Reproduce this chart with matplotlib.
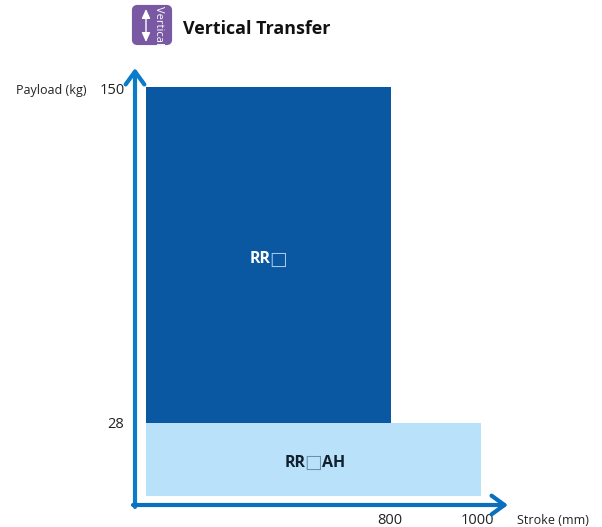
import numpy as np
import matplotlib
matplotlib.use('Agg')
import matplotlib.pyplot as plt
from matplotlib.patches import FancyBboxPatch, FancyArrowPatch
from matplotlib.transforms import ScaledTranslation

# values from the picture
stroke = [800, 1000]
payload_top = [150, 28]
payload_bottom = [28, 0]
bar_colors = ['#0a58a2', '#b9e1f9']
x_ticks = [800, 1000]
y_ticks = [28, 150]

# the chart is a schematic, axes are not linear
x_knots = [0, 800, 1000]
x_place = [0, 245, 335]
y_knots = [0, 28, 150]
y_place = [0, 73, 409]

W, H = 602, 527
plt.rcParams['font.family'] = ['Open Sans', 'DejaVu Sans']

fig = plt.figure(figsize=(W / 100, H / 100), dpi=100)
ax = fig.add_axes([146 / W, 1 - 496 / H, 335 / W, 409 / H])
ax.set_xscale('function', functions=(lambda v: np.interp(v, x_knots, x_place),
                                     lambda v: np.interp(v, x_place, x_knots)))
ax.set_yscale('function', functions=(lambda v: np.interp(v, y_knots, y_place),
                                     lambda v: np.interp(v, y_place, y_knots)))

for i in range(2):
    ax.bar(0, payload_top[i] - payload_bottom[i], width=stroke[i], bottom=payload_bottom[i],
           align='edge', color=bar_colors[i], linewidth=0)

ax.set_xlim(0, 1000)
ax.set_ylim(0, 150)
for s in ax.spines.values():
    s.set_visible(False)
ax.set_xticks(x_ticks)
ax.set_yticks(y_ticks)
ax.xaxis.set_major_formatter(lambda v, p: '%d' % v)
ax.yaxis.set_major_formatter(lambda v, p: '%d' % v)
ax.tick_params(axis='x', length=0, pad=12, labelsize=10.5, labelcolor='#222222')
ax.tick_params(axis='y', length=0, pad=15.5, labelsize=10.5, labelcolor='#222222')


# nudge single tick labels, in pixels
def nudge(lab, dx, dy):
    lab.set_transform(lab.get_transform() + ScaledTranslation(dx / 100, dy / 100, fig.dpi_scale_trans))


nudge(ax.get_xticklabels()[0], -1, 0)
nudge(ax.get_xticklabels()[1], -4, 0)
nudge(ax.get_yticklabels()[1], 0, -2)


def px(x, y):
    return (x / W, 1 - y / H)


# axis arrows
arrow = dict(arrowstyle='->,head_length=0.62,head_width=0.45', lw=3,
             shrinkA=0, shrinkB=0, mutation_scale=15, transform=fig.transFigure)
fig.add_artist(FancyArrowPatch(px(135, 507), px(135, 68), color='#0b7cc9', **arrow))
fig.add_artist(FancyArrowPatch(px(133, 505), px(508, 505), color='#0a70bd', **arrow))

fig.text(*px(16, 91), 'Payload (kg)', fontsize=9, va='center', color='#222222')
fig.text(*px(517, 521), 'Stroke (mm)', fontsize=9, va='center', color='#222222')


# bar labels: the box is a thin glyph next to the bold letters
def label(xc, yc, left, right, color, box_color):
    t1 = ax.text(xc, yc, left, fontsize=11.5, fontweight='bold', color=color, ha='right', va='center')
    t2 = ax.annotate('\u25a1', xy=(1, 0.5), xycoords=t1, xytext=(-2, 0), textcoords='offset pixels',
                     ha='left', va='center', fontsize=13.5, color=box_color, family='DejaVu Sans')
    if right:
        ax.annotate(right, xy=(1, 0.5), xycoords=t2, ha='left', va='center', fontsize=11.5,
                    fontweight='bold', color=color)


label(408, 87.5, 'RR', '', 'white', '#a9c8e6')
label(522, 12.8, 'RR', 'AH', '#10202c', '#6d8fa8')

# header badge
badge = FancyBboxPatch(px(134, 43), 36 / W, 36 / H, boxstyle='round,pad=0,rounding_size=0.006',
                       transform=fig.transFigure, fc='#7a59a4', ec='#7a59a4', lw=3)
fig.add_artist(badge)
fig.add_artist(FancyArrowPatch(px(146, 9), px(146, 42), transform=fig.transFigure,
               arrowstyle='<|-|>,head_length=0.55,head_width=0.25', color='white', lw=1,
               shrinkA=0, shrinkB=0, mutation_scale=10))
fig.text(*px(159, 25), 'Vertical', rotation=-90, color='white', fontsize=8, ha='center', va='center')
fig.text(*px(183, 28.5), 'Vertical Transfer', fontsize=12.85, fontweight='bold', va='center', color='#111111')

fig.savefig('out.png', dpi=100)
